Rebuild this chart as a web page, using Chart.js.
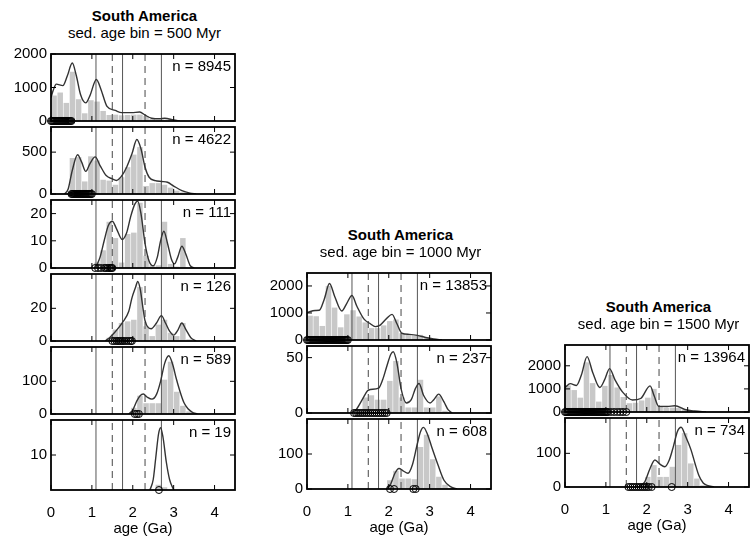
<!DOCTYPE html>
<html>
<head>
<meta charset="utf-8">
<title>South America - detrital ages by sedimentation age bin</title>
<script src="https://cdn.jsdelivr.net/npm/chart.js@4.4.1/dist/chart.umd.min.js"></script>
<style>
  html, body { margin: 0; padding: 0; background: #fff; }
  body { width: 753px; height: 538px; position: relative; overflow: hidden;
         font-family: "Liberation Sans", Arial, Helvetica, sans-serif; color: #000; }
  canvas { position: absolute; }
  .ttl { position: absolute; text-align: center; font-size: 15px; line-height: 18px; white-space: nowrap; }
</style>
</head>
<body>
<script>
// ages in Ga, histogram bins are 150 Myr wide
const binCenters = [0.075, 0.225, 0.375, 0.525, 0.675, 0.825, 0.975, 1.125, 1.275, 1.425,
                    1.575, 1.725, 1.875, 2.025, 2.175, 2.325, 2.475, 2.625, 2.775, 2.925,
                    3.075, 3.225, 3.375, 3.525, 3.675, 3.825, 3.975, 4.125, 4.275, 4.425];
const xTicks = [0, 1, 2, 3, 4];
const solidLines = [1.1, 1.75, 2.7];
const dashedLines = [1.5, 2.3];
const region = 'South America';
const binTitles = ['sed. age bin = 500 Myr', 'sed. age bin = 1000 Myr', 'sed. age bin = 1500 Myr'];

// ---- column 1 : 500 Myr bins ----
const c1Labels = ['n = 8945', 'n = 4622', 'n = 111', 'n = 126', 'n = 589', 'n = 19'];
const c1YMax = [2000, 800, 25, 41, 205, 20];
const c1YTicks = [[0, 1000, 2000], [0, 500], [0, 10, 20], [0, 20], [0, 100], [10]];

const c1Bars1 = [760, 850, 540, 1470, 650, 230, 620, 580, 300, 180, 190, 170, 180, 190, 190, 150, 60, 30, 40, 50, 30, 10, 0, 0, 0, 0, 0, 0, 0, 0];
const c1Bars2 = [0, 0, 5, 430, 440, 150, 450, 400, 170, 160, 110, 200, 320, 470, 560, 95, 130, 130, 110, 76, 40, 20, 8, 0, 0, 0, 0, 0, 0, 0];
const c1Bars3 = [0, 0, 0, 0, 0, 0, 0, 2, 6.5, 17, 11, 2, 12.5, 13, 24, 4.5, 1, 1, 17, 1.5, 0.5, 11, 0, 0, 0, 0, 0, 0, 0, 0];
const c1Bars4 = [0, 0, 0, 0, 0, 0, 0, 0, 0, 2, 7, 11, 12, 13, 33, 9, 3, 10, 13, 5, 3, 11, 1, 0, 0, 0, 0, 0, 0, 0];
const c1Bars5 = [0, 0, 0, 0, 0, 0, 0, 0, 0, 0, 0, 0, 0, 19, 56, 33, 33, 33, 105, 160, 68, 25, 8, 0, 0, 0, 0, 0, 0, 0];
const c1Bars6 = [0, 0, 0, 0, 0, 0, 0, 0, 0, 0, 0, 0, 0, 0, 0, 0, 0, 1.5, 0.8, 0, 0, 0, 0, 0, 0, 0, 0, 0, 0, 0];

const c1Kde1 = [[0, 700], [0.05, 900], [0.13, 1100], [0.29, 1055], [0.4, 1350], [0.52, 1730], [0.62, 1350], [0.72, 800],
                [0.85, 540], [0.95, 750], [1.11, 1240], [1.22, 950], [1.37, 435], [1.57, 315], [1.73, 250], [1.97, 250],
                [2.17, 268], [2.3, 176], [2.46, 83], [2.66, 65], [2.78, 83], [3.0, 28], [3.15, 0]];
const c1Kde2 = [[0.33, 0], [0.42, 60], [0.52, 280], [0.65, 468], [0.75, 380], [0.85, 270], [0.95, 360], [1.08, 443],
                [1.2, 340], [1.35, 220], [1.5, 180], [1.6, 162], [1.72, 210], [1.85, 320], [1.98, 480], [2.1, 650],
                [2.2, 540], [2.3, 320], [2.4, 200], [2.55, 160], [2.7, 150], [2.85, 140], [3.0, 95], [3.2, 40],
                [3.4, 10], [3.55, 0]];
const c1Kde3 = [[1.09, 0], [1.2, 4], [1.3, 10], [1.4, 15.5], [1.5, 17.2], [1.6, 14.5], [1.74, 10.5], [1.85, 13],
                [1.95, 19], [2.05, 23.5], [2.12, 24.6], [2.2, 20], [2.3, 9], [2.4, 2.5], [2.5, 0.8], [2.6, 4],
                [2.68, 10], [2.76, 13.5], [2.85, 9], [2.95, 3], [3.02, 1.5], [3.1, 4], [3.2, 8], [3.3, 5],
                [3.4, 1], [3.5, 0]];
const c1Kde4 = [[1.33, 0], [1.45, 2.5], [1.55, 5], [1.65, 8], [1.75, 11.4], [1.9, 18], [1.98, 26.4], [2.07, 33],
                [2.12, 36.5], [2.18, 32], [2.25, 20], [2.3, 12.4], [2.45, 7.5], [2.58, 11], [2.7, 15.5], [2.8, 11],
                [2.9, 6], [3.0, 3.6], [3.1, 6.5], [3.2, 11], [3.3, 7], [3.42, 2], [3.55, 0]];
const c1Kde5 = [[1.9, 0], [2.0, 12], [2.1, 40], [2.18, 56], [2.26, 61], [2.35, 52], [2.47, 45.4], [2.58, 60],
                [2.68, 100], [2.78, 155], [2.88, 178], [2.98, 150], [3.06, 110], [3.14, 75], [3.25, 35],
                [3.35, 16], [3.45, 6], [3.58, 0]];
const c1Kde6 = [[2.42, 0], [2.5, 3], [2.56, 9], [2.63, 16], [2.68, 17.8], [2.74, 15], [2.82, 8], [2.9, 3], [3.0, 0]];

const c1Ages1 = [0, 0.025, 0.05, 0.075, 0.1, 0.125, 0.15, 0.175, 0.2, 0.225, 0.25, 0.275, 0.3, 0.325, 0.35,
                 0.375, 0.4, 0.425, 0.45, 0.475, 0.5];
const c1Ages2 = [0.5, 0.525, 0.55, 0.575, 0.6, 0.625, 0.65, 0.675, 0.7, 0.725, 0.75, 0.775, 0.8, 0.825, 0.85,
                 0.875, 0.9, 0.925, 0.95, 0.975, 1.0];
const c1Ages3 = [1.08, 1.15, 1.22, 1.3, 1.34, 1.38, 1.42, 1.45, 1.48, 1.5];
const c1Ages4 = [1.5, 1.55, 1.6, 1.64, 1.68, 1.72, 1.76, 1.8, 1.85, 1.9, 1.95, 1.98];
const c1Ages5 = [2.05, 2.1, 2.15];
const c1Ages6 = [2.64];

// ---- column 2 : 1000 Myr bins ----
const c2Labels = ['n = 13853', 'n = 237', 'n = 608'];
const c2YMax = [2480, 60.5, 200];
const c2YTicks = [[0, 1000, 2000], [0, 50], [0, 100]];

const c2Bars1 = [900, 880, 520, 2000, 1200, 470, 950, 1100, 870, 650, 440, 440, 540, 700, 760, 250, 190, 190, 190, 100, 40, 15, 0, 0, 0, 0, 0, 0, 0, 0];
const c2Bars2 = [0, 0, 0, 0, 0, 0, 0, 0, 0, 14, 16, 12, 12, 29, 47, 14, 5, 5, 30, 5, 5, 15, 2, 0, 0, 0, 0, 0, 0, 0];
const c2Bars3 = [0, 0, 0, 0, 0, 0, 0, 0, 0, 0, 0, 0, 0, 25, 52, 30, 30, 28, 120, 155, 85, 35, 12, 3, 0, 0, 0, 0, 0, 0];

const c2Kde1 = [[0, 1014], [0.2, 1094], [0.3, 1100], [0.42, 1500], [0.55, 2090], [0.68, 1600], [0.85, 1073],
                [0.97, 1350], [1.1, 1645], [1.22, 1250], [1.39, 783], [1.55, 600], [1.67, 495], [1.79, 553],
                [1.95, 800], [2.08, 950], [2.2, 600], [2.32, 250], [2.5, 208], [2.7, 173], [2.9, 92], [3.1, 35],
                [3.3, 0]];
const c2Kde2 = [[1.07, 0], [1.2, 3], [1.35, 12], [1.48, 20], [1.55, 21.2], [1.75, 22.4], [1.85, 30], [1.95, 42],
                [2.05, 53], [2.11, 55.3], [2.2, 45], [2.3, 22], [2.43, 9], [2.55, 12], [2.65, 22], [2.74, 26.7],
                [2.85, 16], [3.01, 9], [3.1, 12], [3.22, 17], [3.35, 10], [3.45, 3], [3.55, 0]];
const c2Kde3 = [[1.95, 0], [2.05, 15], [2.15, 45], [2.25, 58.7], [2.35, 52], [2.47, 45], [2.58, 70], [2.7, 130],
                [2.78, 165], [2.85, 176], [2.95, 155], [3.05, 120], [3.2, 70], [3.35, 25], [3.52, 6], [3.67, 0]];

const c2Ages1 = [0, 0.025, 0.05, 0.075, 0.1, 0.125, 0.15, 0.175, 0.2, 0.225, 0.25, 0.275, 0.3, 0.325, 0.35,
                 0.375, 0.4, 0.425, 0.45, 0.475, 0.5, 0.525, 0.55, 0.575, 0.6, 0.625, 0.65, 0.675, 0.7, 0.725,
                 0.75, 0.775, 0.8, 0.825, 0.85, 0.875, 0.9, 0.925, 0.95, 0.975, 1.0];
const c2Ages2 = [1.15, 1.2, 1.25, 1.3, 1.35, 1.4, 1.45, 1.5, 1.55, 1.6, 1.65, 1.7, 1.75, 1.8, 1.85, 1.9, 1.95];
const c2Ages3 = [2.03, 2.13, 2.6, 2.66];

// ---- column 3 : 1500 Myr bins ----
const c3Labels = ['n = 13964', 'n = 734'];
const c3YMax = [2900, 205];
const c3YTicks = [[0, 1000, 2000], [0, 100]];

const c3Bars1 = [1150, 950, 620, 2150, 1250, 450, 1130, 1600, 1060, 650, 380, 400, 500, 620, 1000, 250, 180, 190, 170, 100, 40, 15, 0, 0, 0, 0, 0, 0, 0, 0];
const c3Bars2 = [0, 0, 0, 0, 0, 0, 0, 0, 0, 0, 0, 0, 10, 30, 65, 30, 30, 60, 125, 160, 70, 25, 5, 0, 0, 0, 0, 0, 0, 0];

const c3Kde1 = [[0, 1061], [0.13, 1227], [0.28, 1150], [0.4, 1600], [0.54, 2395], [0.68, 1700], [0.85, 1061],
                [0.97, 1400], [1.09, 1877], [1.22, 1400], [1.41, 858], [1.65, 518], [1.85, 585], [2.08, 1131],
                [2.18, 700], [2.29, 245], [2.5, 240], [2.69, 272], [2.93, 109], [3.17, 41], [3.45, 0]];
const c3Kde2 = [[1.8, 0], [1.95, 15], [2.08, 55], [2.2, 80.4], [2.32, 68], [2.44, 60], [2.55, 80], [2.65, 120],
                [2.75, 165], [2.84, 177.4], [2.95, 150], [3.08, 111], [3.18, 70], [3.28, 32.4], [3.38, 12],
                [3.48, 4.7], [3.64, 0]];

const c3Ages1 = [0, 0.025, 0.05, 0.075, 0.1, 0.125, 0.15, 0.175, 0.2, 0.225, 0.25, 0.275, 0.3, 0.325, 0.35,
                 0.375, 0.4, 0.425, 0.45, 0.475, 0.5, 0.525, 0.55, 0.575, 0.6, 0.625, 0.65, 0.675, 0.7, 0.725,
                 0.75, 0.775, 0.8, 0.825, 0.85, 0.875, 0.9, 0.925, 0.95, 0.975, 1.0, 1.025, 1.05,
                 1.12, 1.2, 1.28, 1.35, 1.42, 1.5];
const c3Ages2 = [1.55, 1.6, 1.65, 1.7, 1.75, 1.8, 1.85, 1.9, 1.95, 2.0, 2.05, 2.12, 2.61];

// ---- layout (px) ----
const YW = 50;     // width kept for y tick labels
const PW = 187;    // plot width (0 - 4.5 Ga)
const PAD = 10;
const PADR = 2;
const XH = 48;     // x axis block under the last panel

function group(labels, yMax, yTicks, bars, kde, ages) {
  return labels.map((n, i) => ({ n, yMax: yMax[i], yTicks: yTicks[i], bars: bars[i], kde: kde[i], ages: ages[i] }));
}

const columns = [
  { sub: binTitles[0], left: 51, top: 51, bottom: 490,
    panels: group(c1Labels, c1YMax, c1YTicks,
      [c1Bars1, c1Bars2, c1Bars3, c1Bars4, c1Bars5, c1Bars6],
      [c1Kde1, c1Kde2, c1Kde3, c1Kde4, c1Kde5, c1Kde6],
      [c1Ages1, c1Ages2, c1Ages3, c1Ages4, c1Ages5, c1Ages6]) },
  { sub: binTitles[1], left: 307, top: 270, bottom: 489,
    panels: group(c2Labels, c2YMax, c2YTicks, [c2Bars1, c2Bars2, c2Bars3],
      [c2Kde1, c2Kde2, c2Kde3], [c2Ages1, c2Ages2, c2Ages3]) },
  { sub: binTitles[2], left: 565, top: 342, bottom: 487,
    panels: group(c3Labels, c3YMax, c3YTicks, [c3Bars1, c3Bars2],
      [c3Kde1, c3Kde2], [c3Ages1, c3Ages2]) }
];

Chart.defaults.font.family = '"Liberation Sans", Arial, Helvetica, sans-serif';
Chart.defaults.font.size = 15;
Chart.defaults.color = '#000';

// box round the plot, inward ticks on all four sides, and the "n = ..." label
const framePlugin = {
  id: 'frame',
  afterDatasetsDraw(chart, args, opts) {
    const { ctx, chartArea: a, scales: { x, y } } = chart;
    ctx.save();
    ctx.strokeStyle = '#000';
    ctx.lineWidth = 1;
    ctx.beginPath();
    xTicks.forEach(v => {
      const px = x.getPixelForValue(v);
      ctx.moveTo(px, a.top); ctx.lineTo(px, a.top + 5);
      ctx.moveTo(px, a.bottom); ctx.lineTo(px, a.bottom - 5);
    });
    y.ticks.forEach(t => {
      const py = y.getPixelForValue(t.value);
      ctx.moveTo(a.left, py); ctx.lineTo(a.left + 5, py);
      ctx.moveTo(a.right, py); ctx.lineTo(a.right - 5, py);
    });
    ctx.stroke();
    ctx.lineWidth = 1.8;
    ctx.strokeRect(a.left, a.top, a.right - a.left, a.bottom - a.top);
    ctx.fillStyle = '#000';
    ctx.font = '15px "Liberation Sans", Arial, sans-serif';
    ctx.textAlign = 'right';
    ctx.textBaseline = 'middle';
    ctx.fillText(opts.label, a.right - 4, a.top + 13);
    ctx.restore();
  }
};

function vline(v, yMax, dash) {
  return {
    type: 'line', data: [{ x: v, y: 0 }, { x: v, y: yMax }],
    borderColor: dash ? '#666' : '#555', borderWidth: dash ? 1.2 : 1,
    borderDash: dash ? [7, 5] : [], pointRadius: 0, order: 4
  };
}

function makePanel(col, p, i, count) {
  const pTop = Math.round(col.top + i * (col.bottom - col.top) / count);
  const pBot = Math.round(col.top + (i + 1) * (col.bottom - col.top) / count);
  const last = i === count - 1;

  const cv = document.createElement('canvas');
  cv.width = YW + PW + PADR;
  cv.height = PAD + (pBot - pTop) + (last ? XH : PAD);
  cv.style.left = (col.left - YW) + 'px';
  cv.style.top = (pTop - PAD) + 'px';
  document.body.appendChild(cv);

  const datasets = [
    { type: 'bar', data: binCenters.map((x, k) => ({ x, y: p.bars[k] })),
      backgroundColor: '#c8c8c8', borderWidth: 0, barPercentage: 0.9, categoryPercentage: 1, order: 5 },
    ...solidLines.map(v => vline(v, p.yMax, false)),
    ...dashedLines.map(v => vline(v, p.yMax, true)),
    { type: 'line', data: p.kde.map(([x, y]) => ({ x, y })),
      borderColor: '#333', borderWidth: 1.4, pointRadius: 0, cubicInterpolationMode: 'monotone', order: 3 },
    { type: 'scatter', data: p.ages.map(a => ({ x: a, y: 0 })),
      pointRadius: 3.5, pointStyle: 'circle', borderColor: '#000', backgroundColor: 'rgba(0,0,0,0)',
      pointBorderColor: '#000', pointBackgroundColor: 'rgba(0,0,0,0)', pointBorderWidth: 1, clip: false, order: 1 }
  ];

  new Chart(cv, {
    type: 'bar',
    data: { datasets },
    options: {
      responsive: false,
      animation: false,
      devicePixelRatio: 1,
      events: [],
      layout: { padding: { top: PAD, right: PADR, bottom: last ? 0 : PAD, left: 0 } },
      plugins: { legend: { display: false }, tooltip: { enabled: false }, frame: { label: p.n } },
      scales: {
        x: {
          type: 'linear', min: 0, max: 4.5, offset: false, display: last,
          afterBuildTicks: s => { s.ticks = xTicks.map(v => ({ value: v })); },
          afterFit: s => { s.height = last ? XH : 0; },
          grid: { display: false, drawTicks: false, offset: false }, border: { display: false },
          ticks: { padding: 14, autoSkip: false, maxRotation: 0, callback: v => String(v) },
          title: { display: true, text: 'age (Ga)', padding: 0 }
        },
        y: {
          type: 'linear', min: 0, max: p.yMax,
          afterBuildTicks: s => { s.ticks = p.yTicks.map(v => ({ value: v })); },
          afterFit: s => { s.width = YW; },
          grid: { display: false, drawTicks: false }, border: { display: false },
          ticks: { padding: 4, autoSkip: false, callback: v => String(v) }
        }
      }
    },
    plugins: [framePlugin]
  });
}

columns.forEach(col => {
  const t1 = document.createElement('div');
  t1.className = 'ttl';
  t1.style.cssText = `left:${col.left}px;width:${PW}px;top:${col.top - 44}px;font-weight:bold;`;
  t1.textContent = region;
  document.body.appendChild(t1);
  const t2 = document.createElement('div');
  t2.className = 'ttl';
  t2.style.cssText = `left:${col.left}px;width:${PW}px;top:${col.top - 27}px;`;
  t2.textContent = col.sub;
  document.body.appendChild(t2);

  col.panels.forEach((p, i) => makePanel(col, p, i, col.panels.length));
});
</script>
</body>
</html>
